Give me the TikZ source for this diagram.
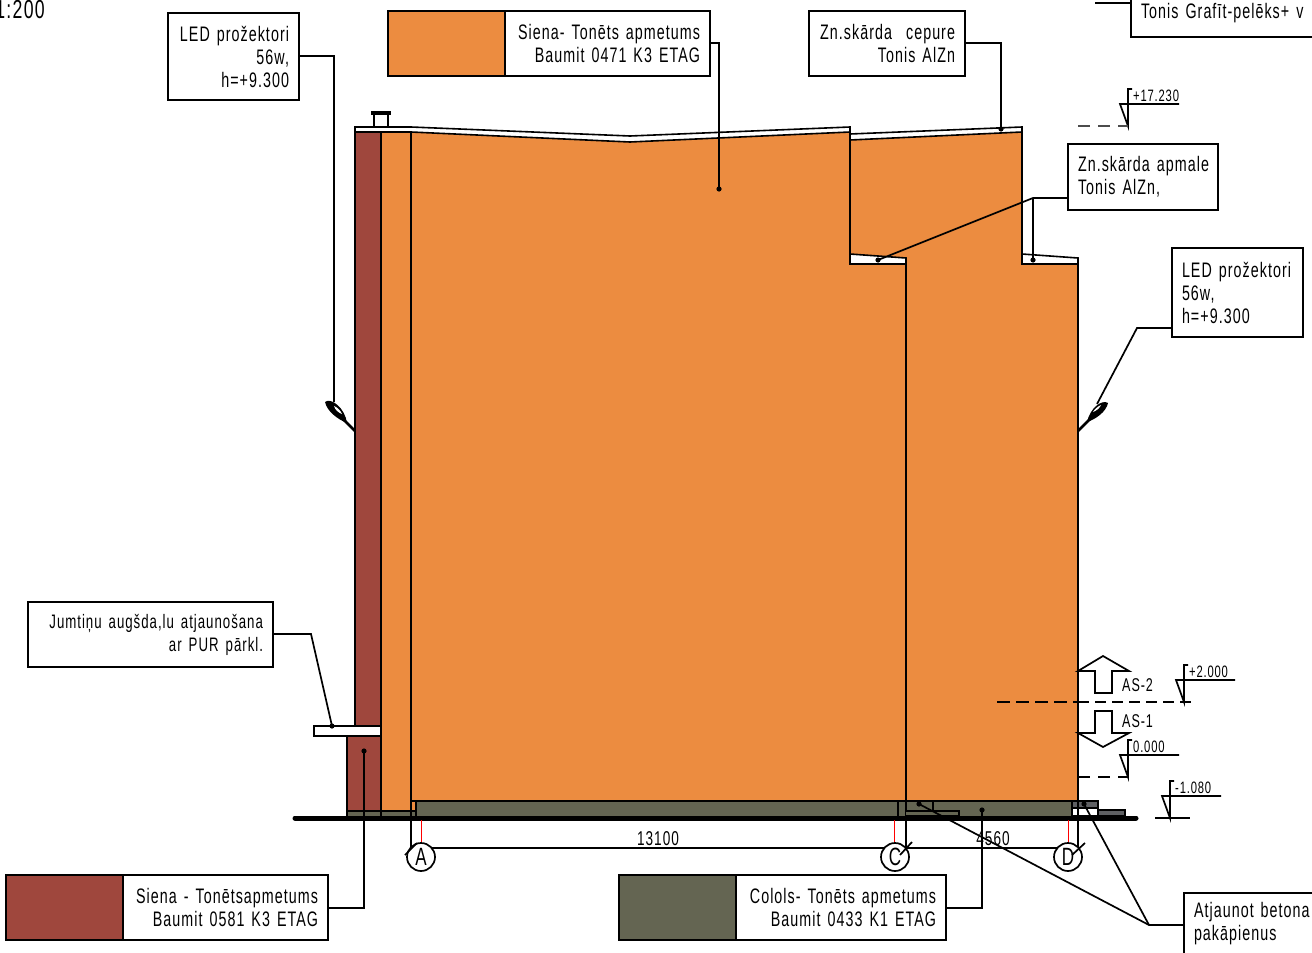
\documentclass[tikz,border=0pt]{standalone}
\usepackage{fontspec}
\setmainfont[FakeStretch=0.68,LetterSpace=5]{Liberation Sans}
\definecolor{org}{HTML}{EC8C40}
\definecolor{brk}{HTML}{9F473D}
\definecolor{grn}{HTML}{646552}
\definecolor{dgr}{HTML}{5F6063}
\tikzset{
 cbox/.style={draw=black,line width=1.8pt,fill=white,inner sep=0pt,font=\fontsize{21}{23}\selectfont},
 swatch/.style={draw=black,line width=1.8pt,inner sep=0pt},
 lead/.style={draw=black,line width=1.7pt},
 part/.style={draw=black,line width=2.2pt,line join=miter},
 thin part/.style={draw=black,line width=1.6pt},
 levtxt/.style={inner sep=0pt,font=\fontsize{16.5}{16.5}\selectfont,anchor=base west},
 astxt/.style={inner sep=0pt,font=\fontsize{18.5}{18.5}\selectfont,anchor=base west},
 dimtxt/.style={inner sep=0pt,font=\fontsize{20}{20}\selectfont},
 axis circle/.style={circle,draw=black,fill=white,line width=1.7pt,minimum size=28pt,inner sep=0pt,font=\fontsize{25}{25}\selectfont},
 redl/.style={draw=red,line width=1pt},
 dashl/.style={draw=black,line width=1.1pt,dash pattern=on 12pt off 8pt},
}
\newcommand{\dotat}[1]{\fill (#1) circle (2.6pt);}
\newcommand{\lev}[4]{% x of stem, y of base, text, name
 \coordinate (#4b) at (#1,#2);
 \coordinate (#4t) at (#1,#2-37);
 \coordinate (#4f) at (#1+4,#2-37);
 \coordinate (#4l) at (#1-8,#2-22);
 \coordinate (#4r) at (#1+51,#2-22);
 \draw[lead] (#4f) -- (#4t) -- (#4b) -- (#4l) -- (#4r);
 \node[levtxt] at (#1+5,#2-25) {#3};
}
\begin{document}
\begin{tikzpicture}[x=1pt,y=-1pt]
\useasboundingbox (0,0) rectangle (1312,953);
\clip (0,0) rectangle (1312,953);
% wall and blocks
\fill[brk] (355,132) rectangle (381,726);
\fill[brk] (347,736) rectangle (381,811);
\fill[org] (381,132) rectangle (416,811);
\fill[org] (411,132) -- (630,142) -- (850,132) -- (850,264) -- (906,264) -- (906,801) -- (411,801) -- cycle;
\fill[org] (850,140) -- (1022,132) -- (1022,264) -- (1078,264) -- (1078,801) -- (906,801) -- (906,264) -- (850,264) -- cycle;
\fill[grn] (416,801) rectangle (1078,816);
\fill[grn] (347,811) rectangle (416,816);
% top flashing
\draw[thin part,fill=white] (355,127) -- (411,127) -- (630,136) -- (850,127) -- (850,132) -- (630,142) -- (411,132) -- (355,132) -- cycle;
\draw[thin part,fill=white] (850,134) -- (1022,127) -- (1022,132) -- (850,140) -- cycle;
% chimney cap
\draw[thin part] (374,127) -- (374,114) (388,127) -- (388,114);
\draw[draw=black,line width=3.5pt] (371,113) -- (391,113);
% lines
\draw[part] (355,132) -- (355,726);
\draw[part] (381,132) -- (381,818);
\draw[part] (411,132) -- (411,848);
\draw[part] (850,132) -- (850,264);
\draw[part] (1022,132) -- (1022,264);
\draw[part] (347,736) -- (347,816);
\draw[thin part] (347,811) -- (416,811);
\draw[thin part] (416,801) -- (416,816);
% lower flashings
\draw[thin part,fill=white] (850,254) -- (906,258) -- (906,264) -- (850,264) -- cycle;
\draw[thin part,fill=white] (1022,254) -- (1078,258) -- (1078,264) -- (1022,264) -- cycle;
\draw[part] (850,264) -- (906,264) -- (906,848);
\draw[part] (1022,264) -- (1078,264);
\draw[draw=black,line width=1.8pt] (1078,264) -- (1078,848);
% roof ledge
\draw[thin part,fill=white] (314,726) rectangle (381,736);
% base
\draw[thin part] (411,801) -- (1078,801);
\draw[thin part] (898,801) -- (898,816);
\draw[thin part] (906,801) rectangle (933,811);
\draw[thin part,fill=grn] (906,811) -- (959,811) -- (959,816) -- (906,816);
\draw[thin part,fill=dgr] (1072,801) rectangle (1098,808);
\draw[thin part,fill=white] (1072,808) rectangle (1098,816);
\draw[thin part,fill=dgr] (1098,810) rectangle (1125,816);
\draw[thin part] (1078,801) -- (1078,816);
\draw[draw=black,line width=5pt,line cap=round] (295,818) -- (1136,818);
% axes
\coordinate (dimL) at (411,848); \coordinate (dimR) at (1078,848);
\draw[draw=black,line width=2pt] (dimL) -- (dimR);
\coordinate (gA) at (421.5,820); \coordinate (gC) at (894.5,820); \coordinate (gD) at (1068.5,820);
\node[axis circle] (axA) at (421,857) {A};
\node[axis circle] (axC) at (895,857) {C};
\node[axis circle] (axD) at (1068,857) {D};
\draw[redl] (gA) -- (gA |- axA.north);
\draw[redl] (gC) -- (gC |- axC.north);
\draw[redl] (gD) -- (gD |- axD.north);
\draw[lead] (405,855) -- (417,843) (900,855) -- (912,842) (1072,855) -- (1085,843);
\node[dimtxt] (d1) at (658,839) {13100};
\node[dimtxt] (d2) at (993,839) {4560};
% title
\node[inner sep=0pt,anchor=base east,font=\fontsize{26}{26}\selectfont] (scale) at (45,18) {1:200};
% boxes
\node[cbox,minimum width=131pt,minimum height=87pt,text width=111pt,align=right] (led1) at (233.5,56.5) {LED prožektori\\56w,\\h=+9.300};
\node[swatch,fill=org,minimum width=117pt,minimum height=65pt] (sw1) at (446.5,43.5) {};
\node[cbox,minimum width=205pt,minimum height=65pt,text width=185pt,align=right] (s1) at (607.5,43.5) {Siena- Tonēts apmetums\\Baumit 0471 K3 ETAG};
\node[cbox,minimum width=156pt,minimum height=65pt,text width=136pt,align=right] (zn1) at (887,43.5) {Zn.skārda\ \ cepure\\Tonis AlZn};
\node[cbox,minimum width=150pt,minimum height=66pt,text width=130pt,align=left] (zn2) at (1143,177) {Zn.skārda apmale\\Tonis AlZn,};
\node[cbox,minimum width=131pt,minimum height=89pt,text width=111pt,align=left] (led2) at (1237.5,292.5) {LED prožektori\\56w,\\h=+9.300};
\node[cbox,minimum width=245pt,minimum height=65pt,text width=225pt,align=right] (jum) at (150.5,634.5) {\fontsize{19.5}{23}\selectfont Jumtiņu augšda,lu atjaunošana\\ar PUR pārkl.};
\node[swatch,fill=brk,minimum width=117pt,minimum height=65pt] (sw2) at (64.5,907.5) {};
\node[cbox,minimum width=205pt,minimum height=65pt,text width=185pt,align=right] (s2) at (225.5,907.5) {Siena - Tonētsapmetums\\Baumit 0581 K3 ETAG};
\node[swatch,fill=grn,minimum width=117pt,minimum height=65pt] (sw3) at (677.5,907.5) {};
\node[cbox,minimum width=210pt,minimum height=65pt,text width=190pt,align=right] (s3) at (841,907.5) {Colols- Tonēts apmetums\\Baumit 0433 K1 ETAG};
\node[cbox,minimum width=220pt,minimum height=62pt,text width=200pt,align=left] (atj) at (1294,924) {Atjaunot betona\\pakāpienus};
\node[cbox,minimum width=300pt,minimum height=47pt,text width=280pt,align=left] (graf) at (1281,13.5) {Tonis Grafīt-pelēks+ v};
% leaders
\coordinate (p1) at (334,56); \coordinate (p1e) at (334,402);
\draw[lead] (led1.east |- p1) -- (p1) -- (p1e);
\coordinate (p2) at (719,43); \coordinate (p2e) at (719,189);
\draw[lead] (s1.east |- p2) -- (p2) -- (p2e); \dotat{p2e}
\coordinate (p3) at (1001,43); \coordinate (p3e) at (1001,129);
\draw[lead] (zn1.east |- p3) -- (p3) -- (p3e); \dotat{p3e}
\coordinate (p4) at (1033,198); \coordinate (p4a) at (878,260); \coordinate (p4b) at (1033,260);
\draw[lead] (zn2.west |- p4) -- (p4) -- (p4a); \draw[lead] (p4) -- (p4b); \dotat{p4a} \dotat{p4b}
\coordinate (p5) at (1137,328); \coordinate (p5e) at (1097,404);
\draw[lead] (led2.west |- p5) -- (p5) -- (p5e);
\coordinate (p6) at (311,634); \coordinate (p6e) at (332,726);
\draw[lead] (jum.east |- p6) -- (p6) -- (p6e); \dotat{p6e}
\coordinate (p7) at (364,908); \coordinate (p7e) at (364,751);
\draw[lead] (s2.east |- p7) -- (p7) -- (p7e); \dotat{p7e}
\coordinate (p8) at (982,908); \coordinate (p8e) at (982,810);
\draw[lead] (s3.east |- p8) -- (p8) -- (p8e); \dotat{p8e}
\coordinate (p9) at (1149,925); \coordinate (p9a) at (919,804); \coordinate (p9b) at (1084,804);
\draw[lead] (atj.west |- p9) -- (p9) -- (p9a); \draw[lead] (p9) -- (p9b); \dotat{p9a} \dotat{p9b}
\coordinate (p10) at (1095,3);
\draw[lead] (p10) -- (graf.west |- p10);
% lamps
\draw[line width=2.6pt] (355,431) -- (340,416);
\fill (325,402) .. controls (331,397) and (345,408) .. (347,423) .. controls (337,419) and (327,411) .. (325,402) -- cycle;
\fill[white] (334,406) .. controls (337,407) and (341,411) .. (342,414) .. controls (339,413) and (335,410) .. (334,406) -- cycle;
\draw[line width=2.6pt] (1078,431) -- (1093,416);
\fill (1108,403) .. controls (1102,399) and (1090,408) .. (1087,422) .. controls (1096,419) and (1106,412) .. (1108,403) -- cycle;
\fill[white] (1101,405) .. controls (1098,406) and (1094,410) .. (1093,412) .. controls (1096,411) and (1100,408) .. (1101,405) -- cycle;
% section marks
\draw[lead,fill=white] (1078,671) -- (1103,656) -- (1129,671) -- (1112,671) -- (1112,693) -- (1095,693) -- (1095,671) -- cycle;
\draw[lead,fill=white] (1078,733) -- (1095,733) -- (1095,711) -- (1112,711) -- (1112,733) -- (1129,733) -- (1103,747) -- cycle;
\node[astxt] (as2) at (1122,691) {AS-2};
\node[astxt] (as1) at (1122,727) {AS-1};
\coordinate (secL) at (997,702); \coordinate (secM) at (1078,702); \coordinate (secR) at (1193,702);
\draw[draw=black,line width=2pt,dash pattern=on 13pt off 6pt] (secL) -- (secM);
\draw[draw=black,line width=1.5pt,dash pattern=on 11pt off 6pt] (secM) -- (secR);
% levels
\lev{1128}{126}{+17.230}{la}
\lev{1184}{702}{+2.000}{lb}
\lev{1128}{777}{0.000}{lc}
\lev{1170}{818}{-1.080}{ld}
\coordinate (da) at (1078,126); \coordinate (dc) at (1078,777);
\draw[dashl,draw=black!70] (da) -- (lab);
\draw[dashl] (dc) -- (lcb);
\coordinate (e1) at (1155,818); \coordinate (e2) at (1190,818);
\draw[lead] (e1) -- (e2);
\end{tikzpicture}
\end{document}
